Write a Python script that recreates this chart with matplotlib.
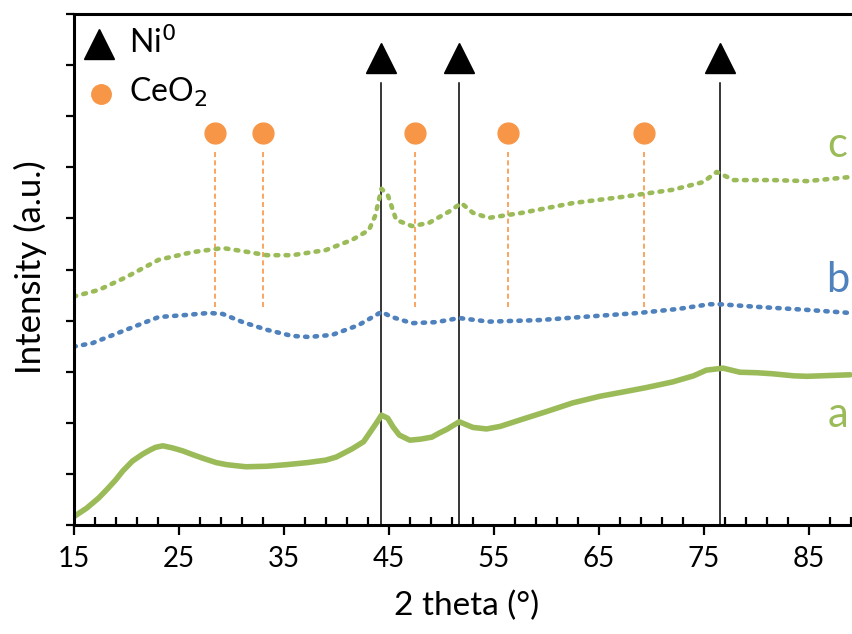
import matplotlib
matplotlib.use("Agg")
import matplotlib.pyplot as plt

plt.rcParams['font.family'] = ['Lato', 'DejaVu Sans']

# ---- data ----
two_theta_a = [15.0, 16.25, 17.4, 18.2, 19.0, 19.7, 20.6, 21.6, 22.3, 22.8, 23.5, 24.4, 25.4,
               26.3, 27.4, 28.6, 29.6, 31.4, 33.4, 35.2, 37.2, 39.0, 40.0, 41.5, 42.6, 43.1,
               43.8, 44.3, 44.9, 45.4, 46.0, 47.0, 48.0, 49.1, 49.8, 50.5, 51.7, 53.0, 54.3,
               55.6, 57.7, 60.0, 62.5, 65.1, 67.2, 69.5, 72.0, 74.0, 75.2, 76.8, 78.4, 80.0,
               81.5, 83.5, 84.8, 88.9]
intensity_a = [0.16, 0.33, 0.53, 0.70, 0.88, 1.06, 1.25, 1.39, 1.47, 1.52, 1.55, 1.51, 1.45,
               1.38, 1.30, 1.22, 1.18, 1.14, 1.15, 1.18, 1.22, 1.27, 1.33, 1.49, 1.63, 1.78,
               1.99, 2.15, 2.09, 1.92, 1.76, 1.66, 1.68, 1.72, 1.80, 1.87, 2.02, 1.91, 1.88,
               1.93, 2.07, 2.22, 2.39, 2.52, 2.60, 2.69, 2.80, 2.92, 3.03, 3.07, 2.99, 2.98,
               2.96, 2.92, 2.91, 2.94]

two_theta_b = [15.0, 16.8, 20.0, 23.1, 25.7, 27.9, 29.2, 31.1, 33.4, 35.8, 37.4, 39.6, 42.1,
               44.3, 45.3, 47.2, 49.5, 51.7, 54.5, 59.3, 64.0, 68.8, 72.6, 75.5, 76.5, 80.0,
               84.8, 88.9]
intensity_b = [3.49, 3.56, 3.82, 4.07, 4.11, 4.15, 4.13, 3.97, 3.82, 3.70, 3.68, 3.72, 3.91,
               4.17, 4.07, 3.95, 3.97, 4.05, 3.98, 4.01, 4.08, 4.15, 4.23, 4.32, 4.32, 4.27,
               4.21, 4.15]

two_theta_c = [15.0, 17.4, 20.0, 23.1, 26.3, 29.2, 31.1, 33.4, 35.8, 39.0, 41.5, 43.1, 43.7,
               44.3, 44.9, 45.7, 47.2, 48.8, 50.7, 51.9, 53.0, 54.5, 57.7, 62.5, 67.2, 72.0,
               74.9, 76.2, 77.8, 81.5, 84.8, 88.9]
intensity_c = [4.47, 4.60, 4.85, 5.19, 5.34, 5.42, 5.36, 5.28, 5.28, 5.38, 5.58, 5.77, 6.05,
               6.58, 6.46, 5.97, 5.85, 5.91, 6.13, 6.30, 6.11, 6.01, 6.11, 6.30, 6.42, 6.56,
               6.71, 6.91, 6.75, 6.75, 6.73, 6.81]

ni_peaks = [44.3, 51.7, 76.5]
ceo2_peaks = [28.5, 33.0, 47.5, 56.3, 69.3]

series_labels = ['a', 'b', 'c']
legend_labels = ['Ni$^0$', 'CeO$_2$']
x_ticks = [15, 25, 35, 45, 55, 65, 75, 85]

# ---- styles ----
GREEN = '#9BBB59'
BLUE = '#4F81BD'
ORANGE = '#F79646'

fig = plt.figure(figsize=(8.52, 6.34), dpi=100)
ax = fig.add_axes([0.0863, 0.1719, 1.0 - 0.0863, 0.806])

ax.plot(two_theta_a, intensity_a, color=GREEN, lw=4.0, solid_capstyle='round',
        solid_joinstyle='round')
ax.plot(two_theta_b, intensity_b, color=BLUE, lw=3.3, linestyle=(0, (0.5, 1.6)),
        dash_capstyle='round')
ax.plot(two_theta_c, intensity_c, color=GREEN, lw=3.3, linestyle=(0, (0.6, 1.6)),
        dash_capstyle='round')

# Ni peaks: vertical lines + triangles
for p in ni_peaks:
    ax.plot([p, p], [0, 8.65], color='black', lw=1.1, zorder=1)
    ax.plot([p], [9.14], marker='^', ms=21, color='black', zorder=3)

# CeO2 peaks: dashed lines + circles
for p in ceo2_peaks:
    ax.plot([p, p], [4.27, 7.30], color=ORANGE, lw=1.2, linestyle=(0, (3, 2)), zorder=1)
    ax.plot([p], [7.67], marker='o', ms=15, color=ORANGE, zorder=3)

# legend (drawn manually)
ax.plot([17.43], [9.41], marker='^', ms=21, color='black')
ax.plot([17.62], [8.43], marker='o', ms=14, color=ORANGE)
ax.text(20.3, 9.24, legend_labels[0], fontsize=23, va='baseline', ha='left')
ax.text(20.3, 8.28, legend_labels[1], fontsize=23, va='baseline', ha='left')

# series labels
label_y = [1.92, 4.56, 7.20]
label_col = [GREEN, BLUE, GREEN]
for lab, yy, cc in zip(series_labels, label_y, label_col):
    ax.text(87.7, yy, lab, fontsize=30, color=cc, ha='center', va='baseline')

ax.set_xlim(15, 89.07)
ax.set_ylim(0, 10)
ax.set_xticks(x_ticks)
ax.set_xticks(range(15, 90, 2), minor=True)
ax.set_yticks(range(0, 11))
ax.set_yticklabels([])

ax.tick_params(axis='x', which='major', direction='out', length=7, width=1.6,
               labelsize=20, pad=8)
ax.tick_params(axis='x', which='minor', direction='in', length=6, width=1.6)
ax.tick_params(axis='y', which='major', direction='out', length=6, width=1.6)

for s in ['left', 'bottom', 'top']:
    ax.spines[s].set_linewidth(2.2)
ax.spines['right'].set_visible(False)

ax.set_xlabel('2 theta (°)', fontsize=24)
ax.set_ylabel('Intensity (a.u.)', fontsize=25)
ax.xaxis.label.set_verticalalignment('center')
ax.yaxis.label.set_verticalalignment('center')
ax.xaxis.set_label_coords(0.505, -0.158)
ax.yaxis.set_label_coords(-0.0559, 0.505)

fig.savefig('out.png', dpi=100)
